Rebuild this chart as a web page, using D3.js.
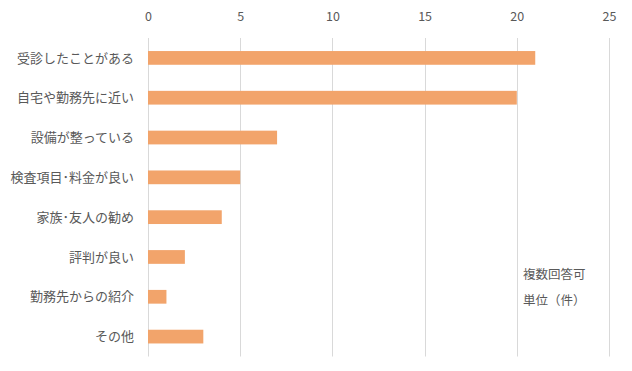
<!DOCTYPE html>
<html>
<head>
<meta charset="utf-8">
<script src="https://cdn.jsdelivr.net/npm/d3@7"></script>
<style>
  body { margin: 0; background: #fff; }
  svg text { font-family: "Noto Sans CJK JP", "Noto Sans", sans-serif; fill: #595959; }
</style>
</head>
<body>
<div id="chart"></div>
<script>
let width = 632, height = 371

// data
let categories = ["受診したことがある","自宅や勤務先に近い","設備が整っている","検査項目･料金が良い","家族･友人の勧め","評判が良い","勤務先からの紹介","その他"]
let values = [21, 20, 7, 5, 4, 2, 1, 3]
let tickValues = [0, 5, 10, 15, 20, 25]
let notes = ["複数回答可", "単位（件）"]

const svg = d3.select("#chart").append("svg").attr("width", width).attr("height", height)

let x = d3.scaleLinear().domain([0, 25]).range([148, 609])
let y = d3.scaleBand().domain(categories).range([38, 356.5]).paddingInner(0.655).paddingOuter(0.3275)

// gridlines
svg.append("g").selectAll("line")
  .data(tickValues)
  .enter().append("line")
  .attr("x1", d => Math.round(x(d)) + .5).attr("x2", d => Math.round(x(d)) + .5)
  .attr("y1", 38).attr("y2", 356.5)
  .attr("stroke", "#d9d9d9").attr("stroke-width", 1)

// top axis labels
let axis = svg.append("g").attr("transform", "translate(0,38)")
  .call(d3.axisTop(x).tickValues(tickValues).tickSize(0).tickPadding(17))
axis.select(".domain").remove()
axis.selectAll("text").attr("font-size", 12.5).style("fill", "#595959")

// bars
svg.append("g").selectAll("rect")
  .data(values)
  .enter().append("rect")
  .attr("x", x(0))
  .attr("y", (d, i) => y(categories[i]))
  .attr("width", d => x(d) - x(0))
  .attr("height", y.bandwidth())
  .attr("fill", "#f2a46b")

// category labels
svg.append("g").selectAll("text")
  .data(categories)
  .enter().append("text")
  .attr("x", 134)
  .attr("y", d => y(d) + y.bandwidth() / 2)
  .attr("dy", "0.36em")
  .attr("text-anchor", "end")
  .attr("font-size", 13)
  .text(d => d)

// notes
svg.append("g").selectAll("text")
  .data(notes)
  .enter().append("text")
  .attr("x", 523)
  .attr("y", (d, i) => 274 + i * 26)
  .attr("dy", "0.36em")
  .attr("font-size", 12.5)
  .text(d => d)
</script>
</body>
</html>
